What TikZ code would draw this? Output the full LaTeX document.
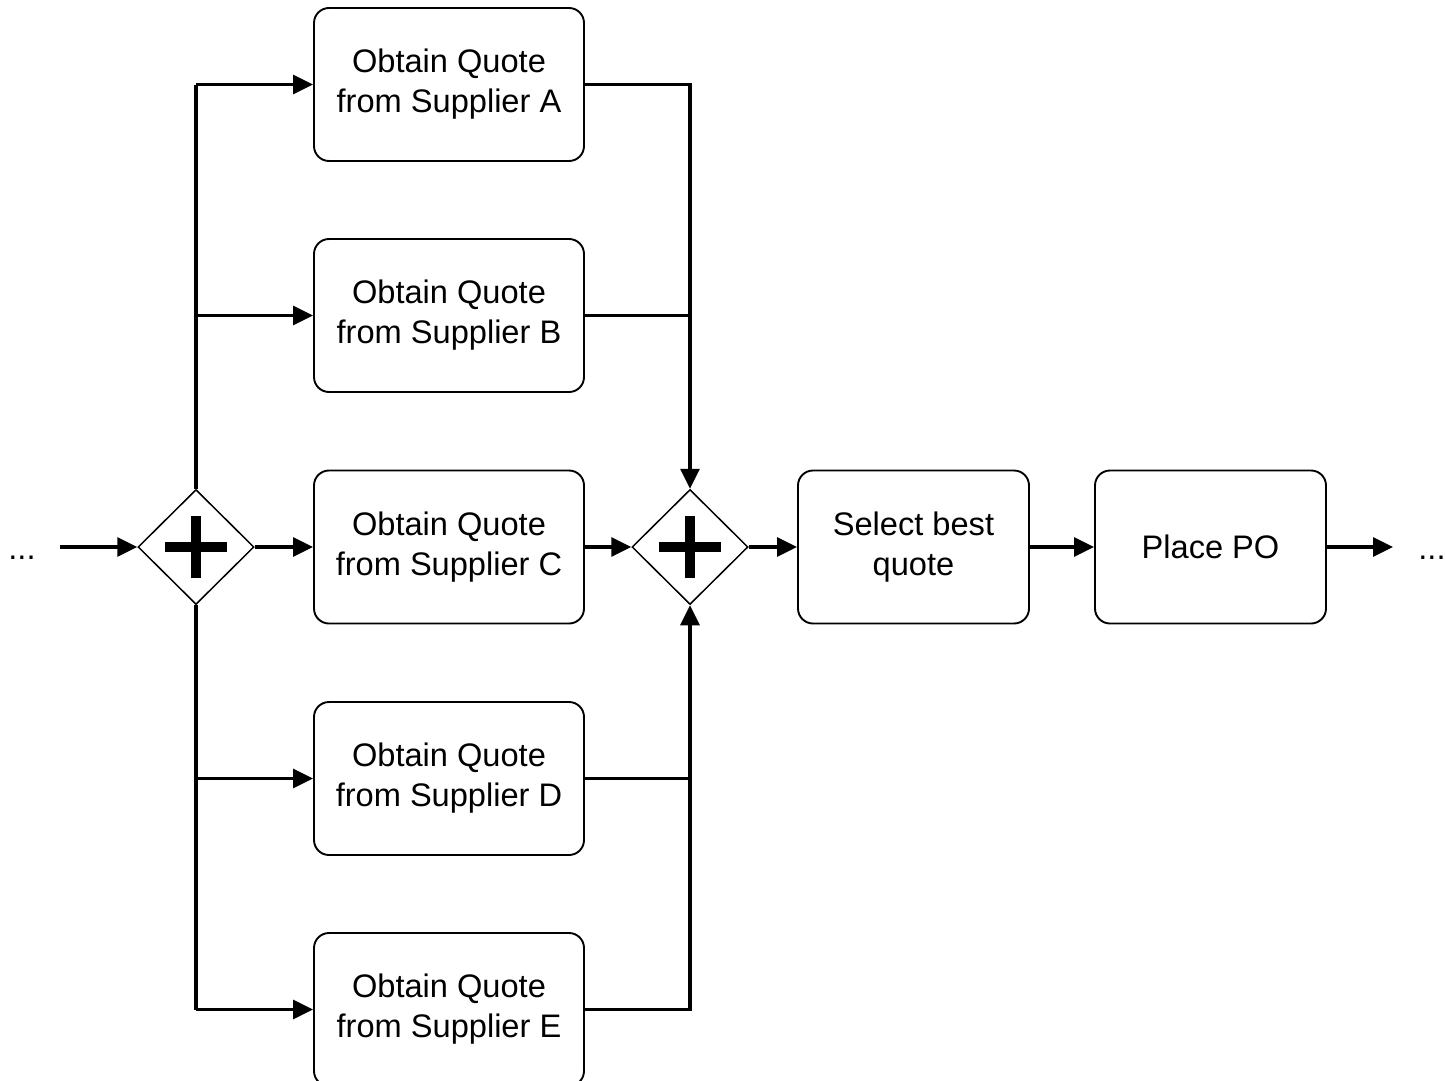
\documentclass[tikz,border=0pt]{standalone}
\usepackage{fontspec}
\setmainfont{Liberation Sans}
\usetikzlibrary{arrows.meta,shapes.geometric}
\begin{document}
\begin{tikzpicture}[x=1pt,y=-1pt,
  txt/.style={font=\fontsize{32.6}{40}\selectfont},
  task/.style={txt, draw, line width=1.9pt, rounded corners=15pt,
    minimum width=270pt, minimum height=153pt, align=center, inner sep=0pt},
  gate/.style={draw, diamond, line width=1.5pt, minimum width=116pt,
    minimum height=115pt, inner sep=0pt},
  plusbar/.style={line width=9.5pt},
  flow/.style={line width=3.2pt, -{Triangle[length=20pt,width=19pt]}},
  wire/.style={line width=3.2pt}]
\useasboundingbox (0,0) rectangle (1445,1081);
\clip (0,0) rectangle (1445,1081);

% parallel split / join gateways
\node[gate] (g1) at (196,547) {};
\node[gate] (g2) at (690,547) {};
\foreach \g in {g1,g2} {
  \draw[plusbar] ([xshift=-31pt]\g.center) -- ([xshift=31pt]\g.center);
  \draw[plusbar] ([yshift=-31pt]\g.center) -- ([yshift=31pt]\g.center);
}

% quote tasks
\node[task] (qa) at (449,84.5)  {Obtain Quote\\from Supplier A};
\node[task] (qb) at (449,315.5) {Obtain Quote\\from Supplier B};
\node[task] (qc) at (449,547)   {Obtain Quote\\from Supplier C};
\node[task] (qd) at (449,778.5) {Obtain Quote\\from Supplier D};
\node[task] (qe) at (449,1009.5){Obtain Quote\\from Supplier E};

\node[task, minimum width=231pt] (sel)   at (913.5,547)  {Select best\\quote};
\node[task, minimum width=231pt] (place) at (1210.5,547) {Place PO};

% continuation marks
\node[txt, anchor=base] (inL)  at (22,559)   {...};
\node[txt, anchor=base] (outR) at (1432,559) {...};
\coordinate (inS)  at (60,547);
\coordinate (outE) at (1393,547);

% junction points
\coordinate (sA) at (196,84.5);
\coordinate (sB) at (196,315.5);
\coordinate (sD) at (196,778.5);
\coordinate (sE) at (196,1009.5);
\coordinate (jA) at (690,84.5);
\coordinate (jB) at (690,315.5);
\coordinate (jD) at (690,778.5);
\coordinate (jE) at (690,1009.5);

% split
\draw[flow] (inS) -- (g1.west);
\draw[wire] (g1.north) -- (sA);
\draw[flow] (sA) -- (qa.west);
\draw[flow] (sB) -- (qb.west);
\draw[flow] (g1.east) -- (qc.west);
\draw[wire] (g1.south) -- (sE);
\draw[flow] (sD) -- (qd.west);
\draw[flow] (sE) -- (qe.west);

% join
\draw[flow] (qa.east) -- (jA) -- (g2.north);
\draw[wire] (qb.east) -- (jB);
\draw[flow] (qc.east) -- (g2.west);
\draw[flow] (qe.east) -- (jE) -- (g2.south);
\draw[wire] (qd.east) -- (jD);

% sequence
\draw[flow] (g2.east) -- (sel.west);
\draw[flow] (sel.east) -- (place.west);
\draw[flow] (place.east) -- (outE);
\end{tikzpicture}
\end{document}
